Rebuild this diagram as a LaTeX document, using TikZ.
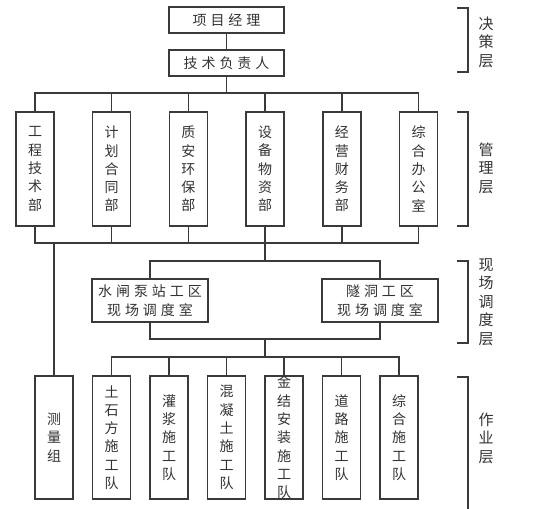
\documentclass[tikz,border=0pt]{standalone}
\usepackage{fontspec}
\newfontfamily\cjk{Noto Sans CJK SC}
\newfontfamily\cjkwide[LetterSpace=28]{Noto Sans CJK SC}
\definecolor{linegray}{HTML}{3A3A3A}
\definecolor{textgray}{HTML}{333333}
\tikzset{
  orgbox/.style={draw=linegray, line width=1.5pt, fill=white, inner sep=0pt, text=textgray, align=center},
  hbox/.style={orgbox, minimum width=115pt, font=\cjkwide\fontsize{14}{19}\selectfont},
  vbox/.style={orgbox, minimum width=38pt, font=\cjk\fontsize{14}{18.3}\selectfont},
  link/.style={linegray, line width=1.5pt},
  layer/.style={text=textgray, align=center, font=\cjk\fontsize{15}{18.5}\selectfont},
}
\begin{document}
\begin{tikzpicture}[x=1pt, y=-1pt]
    \path[use as bounding box, fill=white] (0,0) rectangle (555,509);

    \node[hbox, minimum height=26pt] (pm) at (226.5,20) {项目经理};
    \node[hbox, minimum height=26pt] (tech) at (226.5,63) {技术负责人};

    \node[vbox, minimum height=114pt] (m1) at (35,169) {工\\程\\技\\术\\部};
    \node[vbox, minimum height=114pt] (m2) at (111.7,169) {计\\划\\合\\同\\部};
    \node[vbox, minimum height=114pt] (m3) at (188.4,169) {质\\安\\环\\保\\部};
    \node[vbox, minimum height=114pt] (m4) at (265.1,169) {设\\备\\物\\资\\部};
    \node[vbox, minimum height=114pt] (m5) at (341.8,169) {经\\营\\财\\务\\部};
    \node[vbox, minimum height=114pt] (m6) at (418.5,169) {综\\合\\办\\公\\室};

    \node[hbox, minimum width=116pt, minimum height=43pt] (f1) at (150,300.5) {水闸泵站工区\\现场调度室};
    \node[hbox, minimum width=116pt, minimum height=43pt] (f2) at (380,300.5) {隧洞工区\\现场调度室};

    \node[vbox, minimum height=123pt] (w0) at (54,437.5) {测\\量\\组};
    \node[vbox, minimum height=123pt] (w1) at (111.5,437.5) {土\\石\\方\\施\\工\\队};
    \node[vbox, minimum height=123pt] (w2) at (169,437.5) {灌\\浆\\施\\工\\队};
    \node[vbox, minimum height=123pt] (w3) at (226.5,437.5) {混\\凝\\土\\施\\工\\队};
    \node[vbox, minimum height=123pt] (w4) at (284,437.5) {金\\结\\安\\装\\施\\工\\队};
    \node[vbox, minimum height=123pt] (w5) at (341.5,437.5) {道\\路\\施\\工\\队};
    \node[vbox, minimum height=123pt] (w6) at (399,437.5) {综\\合\\施\\工\\队};

    \coordinate (mgtop) at (0,93);
    \coordinate (mgbot) at (0,243);
    \coordinate (fdtop) at (0,261);
    \coordinate (fdbot) at (0,339);
    \coordinate (wktop) at (0,357);

    \draw[link] (pm) -- (tech);
    \draw[link] (tech) -- (tech |- mgtop);
    \draw[link] (m1.north) -- (m1 |- mgtop) -- (m6 |- mgtop) -- (m6.north);
    \draw[link] (m2.north) -- (m2 |- mgtop);
    \draw[link] (m3.north) -- (m3 |- mgtop);
    \draw[link] (m4.north) -- (m4 |- mgtop);
    \draw[link] (m5.north) -- (m5 |- mgtop);

    \draw[link] (m1.south) -- (m1 |- mgbot) -- (m6 |- mgbot) -- (m6.south);
    \draw[link] (m2.south) -- (m2 |- mgbot);
    \draw[link] (m3.south) -- (m3 |- mgbot);
    \draw[link] (m4.south) -- (m4 |- fdtop);
    \draw[link] (m5.south) -- (m5 |- mgbot);
    \draw[link] (w0 |- mgbot) -- (w0.north);

    \draw[link] (f1.north) -- (f1 |- fdtop) -- (f2 |- fdtop) -- (f2.north);
    \draw[link] (f1.south) -- (f1 |- fdbot) -- (f2 |- fdbot) -- (f2.south);
    \draw[link] (m4 |- fdbot) -- (m4 |- wktop);

    \draw[link] (w1.north) -- (w1 |- wktop) -- (w6 |- wktop) -- (w6.north);
    \draw[link] (w2.north) -- (w2 |- wktop);
    \draw[link] (w3.north) -- (w3 |- wktop);
    \draw[link] (w4.north) -- (w4 |- wktop);
    \draw[link] (w5.north) -- (w5 |- wktop);

    \draw[link] (457,8) -- (468,8) -- (468,72) -- (457,72);
    \draw[link] (457,112) -- (468,112) -- (468,226) -- (457,226);
    \draw[link] (457,261) -- (468,261) -- (468,343) -- (457,343);
    \draw[link] (457,377) -- (468,377) -- (468,509);

    \node[layer] (lyr1) at (486,42) {决\\策\\层};
    \node[layer] (lyr2) at (486,168) {管\\理\\层};
    \node[layer] (lyr3) at (486,302) {现\\场\\调\\度\\层};
    \node[layer] (lyr4) at (486,438) {作\\业\\层};
\end{tikzpicture}
\end{document}
